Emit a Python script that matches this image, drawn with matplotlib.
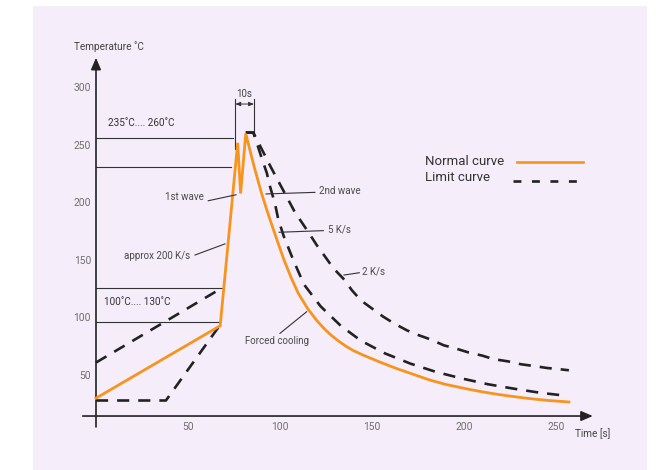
import matplotlib
matplotlib.use("Agg")
import matplotlib.pyplot as plt
from matplotlib.patches import Rectangle
import matplotlib.transforms as mtransforms

plt.rcParams['font.family'] = ['Roboto', 'DejaVu Sans']

# --- data (time [s], temperature [deg C]) ---
normal_t = [0, 67.5, 77, 78.6, 81.4, 86, 90, 94, 98.5, 102, 106, 110, 115,
            120, 124, 128, 132, 136, 140, 145, 154, 163, 172, 181, 190,
            200, 209, 218, 227, 236, 246, 257]
normal_T = [34, 97, 256, 212, 264, 235, 212, 192, 171, 155, 139, 125, 112,
            101.5, 94.5, 88.5, 83.5, 79, 75.3, 71.6, 65.6, 60, 55, 50, 46,
            42.6, 39.8, 37.4, 35.4, 33.6, 32, 30.7]

upper_rise_t = [0, 68.6]
upper_rise_T = [65, 130]
lower_rise_t = [0, 38, 68]
lower_rise_T = [32, 32, 99]

fast_cool_t = [81.4, 85.5, 88, 90, 92.8, 94.6, 97.3, 99, 102, 107, 113, 122,
               133, 144, 157, 171, 184.5, 198.4, 212.8, 227, 241.5, 255]
fast_cool_T = [265, 265, 253, 243, 230, 218, 203, 190, 175, 155, 133, 114,
               97, 84, 73, 64, 57, 51.3, 46.2, 42.3, 38.7, 36.2]

slow_cool_t = [81.4, 85.5, 95, 102, 108, 116, 120, 125, 129, 135, 139, 144,
               150, 156, 162, 169, 175, 182, 189, 196, 202, 210, 216, 224,
               231, 238, 245, 253, 257]
slow_cool_T = [265, 265, 235, 214, 196, 177, 167, 156, 147, 137, 128, 119,
               112, 105, 99, 93, 89, 85, 80, 77, 74, 71, 68, 66,
               63.5, 62, 60.3, 59, 58.3]

xticks = [50, 100, 150, 200, 250]
yticks = [50, 100, 150, 200, 250, 300]
ref_levels = [260, 235, 130, 100]
ref_ends = [74.6, 73.2, 68.5, 66.8]

ORANGE = '#f7941d'
DARK = '#222222'
GREY = '#6f6f6f'

fig = plt.figure(figsize=(6.56, 4.70), dpi=100, facecolor='white')
ax = fig.add_axes([0, 0, 1, 1])
ax.set_facecolor('none')
# lavender panel behind the chart
ax.add_patch(Rectangle((33 / 656, 0), 614 / 656, 1 - 6 / 470,
                       transform=fig.transFigure, facecolor='#f5edf9',
                       edgecolor='none', zorder=0))
# 1 unit of time = 1.84 px, 1 degree = 1.15 px
ax.set_xlim(-96 / 1.84, 560 / 1.84)
ax.set_ylim(-32.7 / 1.15, 437.3 / 1.15)
ax.axis('off')

# axes with arrow heads
ax.annotate('', xy=(270, 18.5), xytext=(-7.2, 18.5),
            arrowprops=dict(arrowstyle='-|>,head_length=0.7,head_width=0.3',
                            color=DARK, lw=1.2, shrinkA=0, shrinkB=0))
ax.annotate('', xy=(0, 330), xytext=(0, 9),
            arrowprops=dict(arrowstyle='-|>,head_length=0.7,head_width=0.3',
                            color=DARK, lw=1.2, shrinkA=0, shrinkB=0))

ylab_tr = mtransforms.offset_copy(ax.transData, fig, x=-5, y=4, units='dots')
for v in yticks:
    ax.text(0, v, str(v), transform=ylab_tr, ha='right', va='center',
            fontsize=7.4, color=GREY)
for v in xticks:
    ax.text(v, 9.2, str(v), ha='center', va='center', fontsize=7.4, color=GREY)
ax.text(-11.8, 339.7, 'Temperature \u02daC', ha='left', va='center',
        fontsize=7.2, color='#444444')
ax.text(260.3, 2.9, 'Time [s]', ha='left', va='center', fontsize=7.2,
        color='#444444')

# reference levels
for lev, end in zip(ref_levels, ref_ends):
    ax.plot([0, end], [lev, lev], color='#333333', lw=0.8, zorder=2)
ax.text(6.4, 273.6, '235\u02daC.... 260\u02daC', ha='left', va='center',
        fontsize=7.2, color='#333333')
ax.text(4.3, 117.4, '100\u02daC.... 130\u02daC', ha='left', va='center',
        fontsize=7.2, color='#333333')

# 10 s marker
ax.plot([75.7, 75.7], [294.2, 250.4], color='#333333', lw=0.8)
ax.plot([85.9, 85.9], [294.2, 265.5], color='#333333', lw=0.8)
ax.annotate('', xy=(85.9, 289.8), xytext=(75.7, 289.8),
            arrowprops=dict(arrowstyle='<|-|>,head_length=0.3,head_width=0.12',
                            color='#333333', lw=0.7, shrinkA=0, shrinkB=0))
ax.text(80.6, 298.5, '10s', ha='center', va='center', fontsize=7,
        color='#444444')

# limit curves
dash_kw = dict(color=DARK, lw=1.9, dashes=(4.6, 3.4), zorder=3)
ax.plot(upper_rise_t, upper_rise_T, **dash_kw)
ax.plot(lower_rise_t, lower_rise_T, **dash_kw)
ax.plot(fast_cool_t, fast_cool_T, **dash_kw)
ax.plot(slow_cool_t, slow_cool_T, **dash_kw)

# normal curve
ax.plot(normal_t, normal_T, color=ORANGE, lw=2.0, zorder=4,
        solid_joinstyle='miter')

# annotations with leader lines
notes = [
    ('1st wave', (58.7, 209), 'right', [(61, 205.7), (76.1, 210.9)]),
    ('approx 200 K/s', (51.1, 157.6), 'right', [(53.8, 158.5), (70.1, 168.2)]),
    ('2nd wave', (121.2, 214.4), 'left', [(92.4, 211.6), (119, 213)]),
    ('5 K/s', (125.9, 180.3), 'left', [(99.5, 178.3), (123.5, 179.7)]),
    ('2 K/s', (144.4, 144), 'left', [(134.8, 141.1), (143.1, 143.1)]),
    ('Forced cooling', (81, 84), 'left', [(100, 90.4), (114.5, 109.2)]),
]
for label, (tx, ty), ha, seg in notes:
    ax.text(tx, ty, label, ha=ha, va='center', fontsize=7, color='#4a4a4a')
    ax.plot([seg[0][0], seg[1][0]], [seg[0][1], seg[1][1]],
            color='#333333', lw=0.8, zorder=5)

# legend
ax.text(178.8, 239.7, 'Normal curve', ha='left', va='center', fontsize=9.5,
        color='#333333')
ax.text(178.8, 226, 'Limit curve', ha='left', va='center', fontsize=9.5,
        color='#333333')
ax.plot([228.6, 264.5], [239.1, 239.1], color=ORANGE, lw=1.9)
ax.plot([226.6, 263], [222.9, 222.9], color=DARK, lw=1.9, dashes=(3.0, 4.0))

fig.savefig('out.png', dpi=100, facecolor=fig.get_facecolor())
